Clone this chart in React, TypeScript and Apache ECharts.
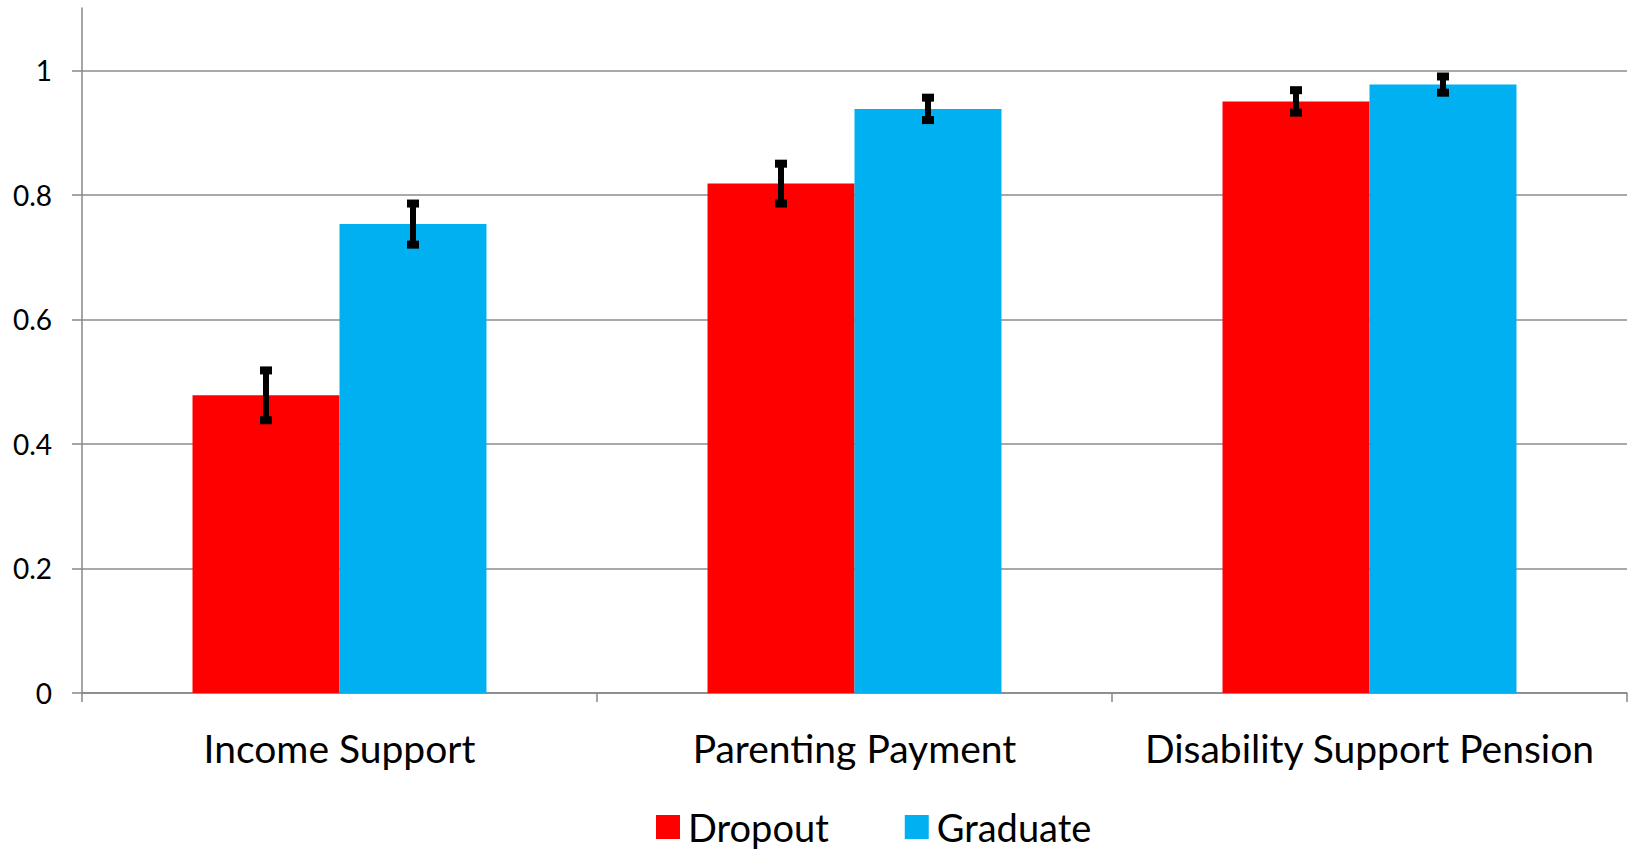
import React, { useEffect, useRef } from "react";
import * as echarts from "echarts";

const categories = ["Income Support", "Parenting Payment", "Disability Support Pension"];
const dropoutValues = [0.478, 0.818, 0.95];
const dropoutErrors = [0.04, 0.032, 0.018];
const graduateValues = [0.753, 0.938, 0.977];
const graduateErrors = [0.033, 0.018, 0.013];
const yTicks = [0, 0.2, 0.4, 0.6, 0.8, 1];

const BAR_FRAC = 0.2854;
const FONT = "Lato, 'Open Sans', sans-serif";

function errorData(vals: number[], errs: number[]) {
  return vals.map((v, i) => [i, v - errs[i], v + errs[i]]);
}

function makeRender(side: number) {
  return (params: any, api: any) => {
    const idx = api.value(0);
    const lo = api.coord([idx, api.value(1)]);
    const hi = api.coord([idx, api.value(2)]);
    const band = api.size([1, 0])[0];
    const x = lo[0] + side * band * BAR_FRAC / 2;
    const capW = 12;
    const capH = 8;
    return {
      type: "group",
      children: [
        {
          type: "line",
          shape: { x1: x, y1: lo[1], x2: x, y2: hi[1] },
          style: { stroke: "#000", lineWidth: 6 },
        },
        {
          type: "rect",
          shape: { x: x - capW / 2, y: hi[1] - capH / 2, width: capW, height: capH },
          style: { fill: "#000" },
        },
        {
          type: "rect",
          shape: { x: x - capW / 2, y: lo[1] - capH / 2, width: capW, height: capH },
          style: { fill: "#000" },
        },
      ],
    };
  };
}

export default function App() {
  const ref = useRef<HTMLDivElement>(null);
  useEffect(() => {
    if (!ref.current) return;
    const chart = echarts.init(ref.current, null, { renderer: "svg" });
    chart.setOption({
      animation: false,
      textStyle: { fontFamily: FONT },
      grid: { left: 82, right: 3, top: 8, bottom: 156, containLabel: false },
      legend: {
        top: 807,
        left: 656,
        padding: 0,
        icon: "rect",
        itemWidth: 24,
        itemHeight: 24,
        itemGap: 76,
        textStyle: {
          fontSize: 38,
          lineHeight: 40,
          color: "#000",
          fontFamily: FONT,
          padding: [0, 0, 0, 3],
        },
        data: ["Dropout", "Graduate"],
      },
      xAxis: {
        type: "category",
        data: categories,
        axisLine: { show: true, lineStyle: { color: "#878787", width: 1.5 } },
        axisTick: { show: true, length: 9, lineStyle: { color: "#878787", width: 1.5 } },
        axisLabel: { fontSize: 39, color: "#000", margin: 35, interval: 0, fontFamily: FONT },
      },
      yAxis: {
        type: "value",
        min: 0,
        max: 1.1,
        interval: 0.2,
        axisLine: { show: true, lineStyle: { color: "#878787", width: 1.5 } },
        axisTick: { show: true, length: 10, lineStyle: { color: "#878787", width: 1.5 } },
        axisLabel: {
          fontSize: 28,
          color: "#000",
          margin: 30,
          fontFamily: FONT,
          showMaxLabel: false,
          formatter: (v: number) => {
            const t = yTicks.find((k) => Math.abs(k - v) < 1e-6);
            return t === undefined ? "" : String(t);
          },
        },
        splitLine: { show: true, showMaxLine: false, lineStyle: { color: "#8c8c8c", width: 1.5 } },
      },
      series: [
        {
          name: "Dropout",
          type: "bar",
          data: dropoutValues,
          barWidth: (BAR_FRAC * 100).toFixed(2) + "%",
          barGap: "0%",
          itemStyle: { color: "#FF0000" },
        },
        {
          name: "Graduate",
          type: "bar",
          data: graduateValues,
          barWidth: (BAR_FRAC * 100).toFixed(2) + "%",
          barGap: "0%",
          itemStyle: { color: "#00B0F0" },
        },
        {
          type: "custom",
          renderItem: makeRender(-1),
          data: errorData(dropoutValues, dropoutErrors),
          encode: { x: 0, y: [1, 2] },
          z: 10,
        },
        {
          type: "custom",
          renderItem: makeRender(1),
          data: errorData(graduateValues, graduateErrors),
          encode: { x: 0, y: [1, 2] },
          z: 10,
        },
      ],
    });
    return () => chart.dispose();
  }, []);
  return (
    <div
      ref={ref}
      style={{ position: "absolute", left: 0, top: 0, width: 1630, height: 849, background: "#fff" }}
    />
  );
}
